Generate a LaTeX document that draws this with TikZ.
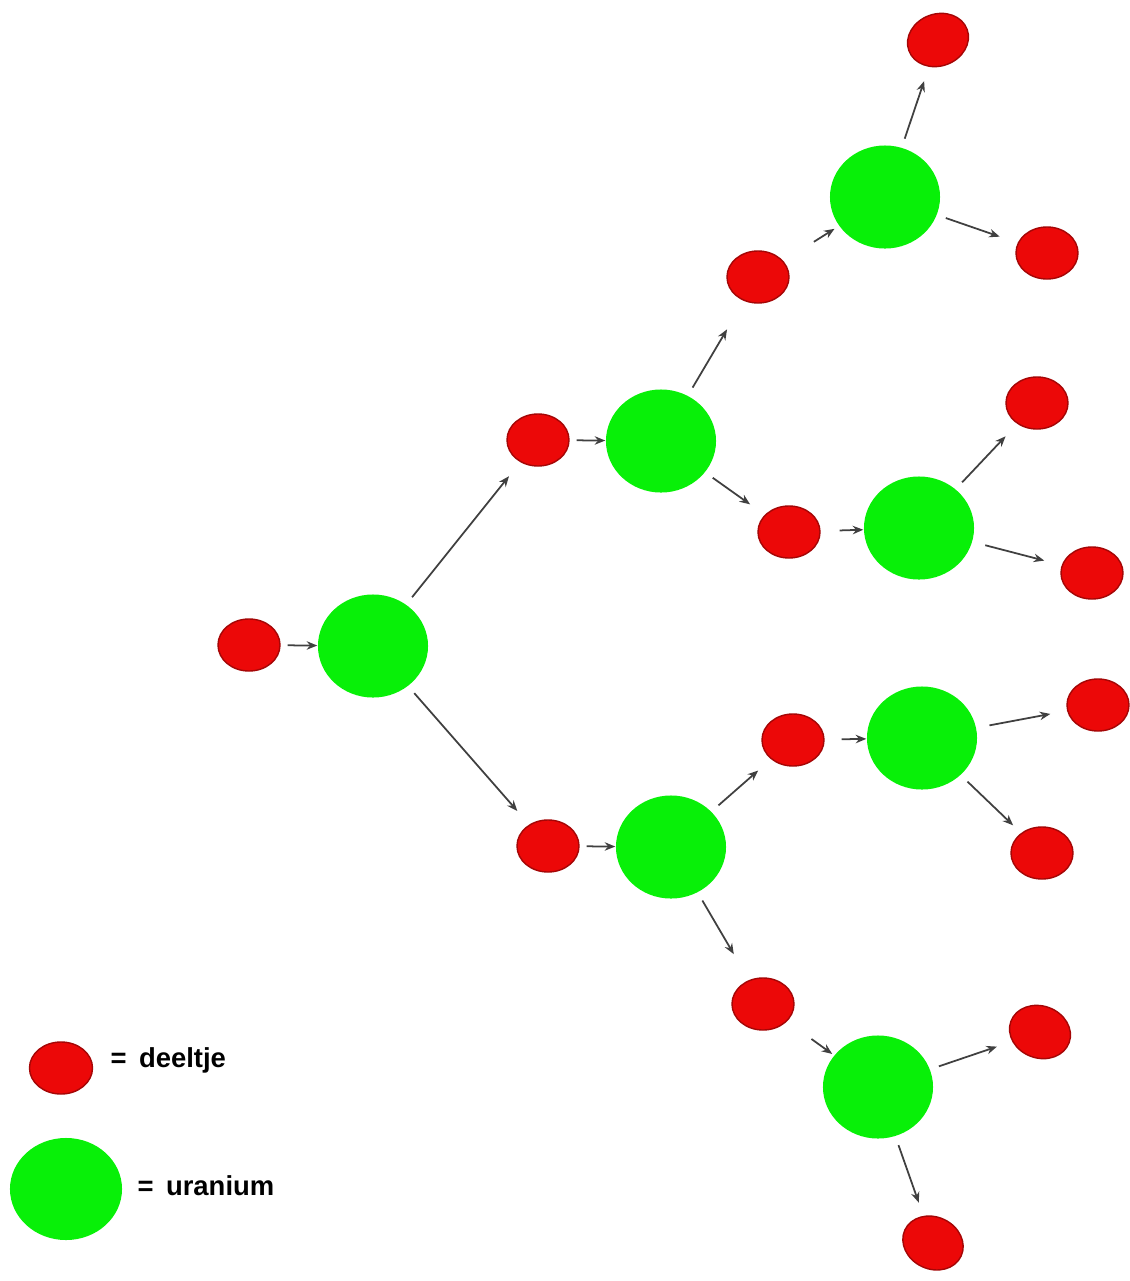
\documentclass[tikz,border=0pt]{standalone}
\usepackage{fontspec}
\setmainfont{Liberation Sans}
\usetikzlibrary{shapes.geometric,arrows.meta}

\definecolor{rood}{RGB}{236,8,8}
\definecolor{groen}{RGB}{8,240,8}

\begin{document}
\begin{tikzpicture}
  [x=0.01cm,y=-0.01cm,
   deeltje/.style={ellipse,draw=rood!70!black,line width=0.4pt,fill=rood,minimum width=0.62cm,minimum height=0.52cm,inner sep=0pt},
   uranium/.style={ellipse,fill=groen,minimum width=1.1cm,minimum height=1.03cm,inner sep=0pt},
   pijl/.style={-{Stealth[length=3pt,width=2.4pt]},draw=black!75,line width=0.5pt,shorten <=0.9mm,shorten >=1.8mm},
   inpijl/.style={pijl,shorten <=0.7mm,shorten >=0mm},
   tekst/.style={anchor=base west,inner sep=0pt,font=\fontsize{7.8}{10}\selectfont\bfseries}]
  \useasboundingbox (0,0) rectangle (1129,1281);

  \node[deeltje] (d0) at (249,645) {};
  \node[uranium] (u0) at (373,646) {};
  \node[deeltje] (d1) at (538,440) {};
  \node[uranium] (u1) at (661,441) {};
  \node[deeltje] (d2) at (758,277) {};
  \node[uranium] (u2) at (885,197) {};
  \node[deeltje,rotate=20] (d3) at (938,40) {};
  \node[deeltje] (d4) at (1047,253) {};
  \node[deeltje] (d5) at (789,532) {};
  \node[uranium] (u3) at (919,528) {};
  \node[deeltje] (d6) at (1037,403) {};
  \node[deeltje] (d7) at (1092,573) {};
  \node[deeltje] (d8) at (548,846) {};
  \node[uranium] (u4) at (671,847) {};
  \node[deeltje] (d9) at (793,740) {};
  \node[uranium] (u5) at (922,738) {};
  \node[deeltje] (d10) at (1098,705) {};
  \node[deeltje] (d11) at (1042,853) {};
  \node[deeltje] (d12) at (763,1004) {};
  \node[uranium] (u6) at (878,1087) {};
  \node[deeltje,rotate=-20] (d13) at (1040,1032) {};
  \node[deeltje,rotate=-25] (d14) at (933,1243) {};

  % legenda
  \node[deeltje,minimum width=0.63cm] (ld) at (61,1068) {};
  \node[uranium,minimum width=1.12cm,minimum height=1.02cm] (lu) at (66,1189) {};
  \node[tekst] (ltd) at (110,1067) {=\hspace{0.45em}deeltje};
  \node[tekst] (ltu) at (137,1195) {=\hspace{0.45em}uranium};

  \draw[inpijl] (d0) -- (u0);
  \draw[pijl] (u0) -- (d1);
  \draw[pijl] (u0) -- (d8);
  \draw[inpijl] (d1) -- (u1);
  \draw[pijl,shorten >=3.3mm] (u1) -- (d2);
  \draw[pijl] (u1) -- (d5);
  \draw[inpijl,shorten <=3.6mm,shorten >=0.5mm] (d2) -- (u2);
  \draw[pijl,shorten >=1.5mm] (u2) -- (d3);
  \draw[pijl,shorten >=1.9mm] (u2) -- (d4);
  \draw[inpijl,shorten <=1.9mm] (d5) -- (u3);
  \draw[pijl,shorten >=1.7mm] (u3) -- (d6);
  \draw[pijl,shorten <=1.3mm] (u3) -- (d7);
  \draw[inpijl] (d8) -- (u4);
  \draw[pijl,shorten >=1.7mm] (u4) -- (d9);
  \draw[pijl,shorten >=3mm] (u4) -- (d12);
  \draw[inpijl,shorten <=1.7mm] (d9) -- (u5);
  \draw[pijl,shorten <=1.3mm,shorten >=1.7mm] (u5) -- (d10);
  \draw[pijl,shorten >=1.1mm] (u5) -- (d11);
  \draw[inpijl,shorten <=3mm,shorten >=0.2mm] (d12) -- (u6);
  \draw[pijl,shorten >=1.6mm] (u6) -- (d13);
  \draw[pijl,shorten >=1.4mm] (u6) -- (d14);
\end{tikzpicture}
\end{document}
